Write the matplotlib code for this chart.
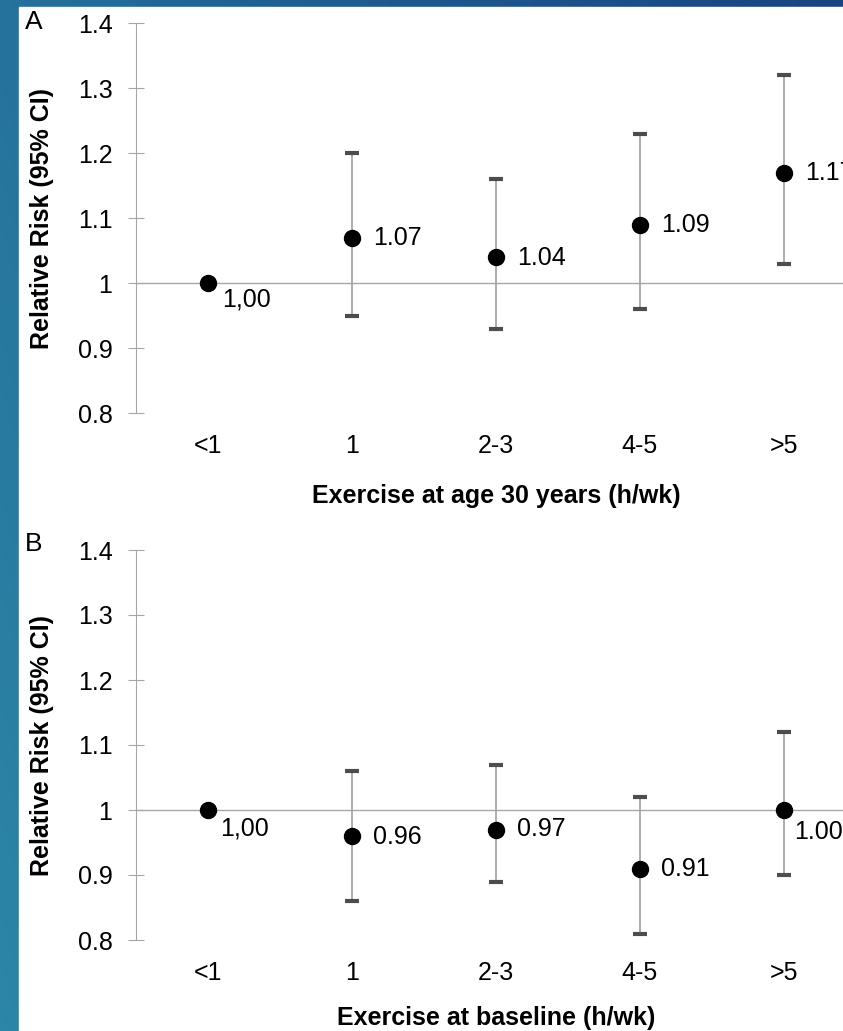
import numpy as np
import matplotlib
matplotlib.use("Agg")
import matplotlib.pyplot as plt
from matplotlib.colors import LinearSegmentedColormap
from matplotlib.patches import Rectangle

plt.rcParams["font.family"] = ["Liberation Sans", "DejaVu Sans"]

CATEGORIES = ["<1", "1", "2-3", "4-5", ">5"]

# panel A: exercise at age 30
rr_a = [1.00, 1.07, 1.04, 1.09, 1.17]
lo_a = [np.nan, 0.95, 0.93, 0.96, 1.03]
hi_a = [np.nan, 1.20, 1.16, 1.23, 1.32]
lbl_a = ["1,00", "1.07", "1.04", "1.09", "1.17"]

# panel B: exercise at baseline
rr_b = [1.00, 0.96, 0.97, 0.91, 1.00]
lo_b = [np.nan, 0.86, 0.89, 0.81, 0.90]
hi_b = [np.nan, 1.06, 1.07, 1.02, 1.12]
lbl_b = ["1,00", "0.96", "0.97", "0.91", "1.00"]

YTICKS = [0.8, 0.9, 1.0, 1.1, 1.2, 1.3, 1.4]
YTICKLABELS = ["0.8", "0.9", "1", "1.1", "1.2", "1.3", "1.4"]

W, H = 843, 1031
FS = 18
fig = plt.figure(figsize=(W / 100, H / 100), dpi=100)

# slide background behind the white chart
bg = fig.add_axes([0, 0, 1, 1], zorder=-10)
bg.set_axis_off()
cmap = LinearSegmentedColormap.from_list("slide", ["#2c86a6", "#1f5f92", "#1a4480"])
gx, gy = np.meshgrid(np.linspace(0, 1, 200), np.linspace(0, 1, 200))
bg.imshow(0.75 * gx + 0.25 * (1 - gy), cmap=cmap, aspect="auto", extent=[0, 1, 0, 1])
bg.add_patch(Rectangle((19 / W, 0), 1, 1 - 7 / H, color="white", transform=bg.transAxes))
bg.set_xlim(0, 1)
bg.set_ylim(0, 1)

GRAY = "#a6a6a6"


def panel(ax, rr, lo, hi, labels, offsets, xlabel, letter):
    x = np.arange(len(CATEGORIES)) + 0.5
    rr = np.array(rr)
    err = np.array([rr - np.array(lo), np.array(hi) - rr])
    ax.axhline(1.0, color=GRAY, lw=1.0, zorder=1)
    _, caps, _ = ax.errorbar(x, rr, yerr=err, fmt="none", ecolor=GRAY,
                             elinewidth=1.3, capsize=4.8, capthick=3.0, zorder=2)
    for c in caps:
        c.set_markeredgecolor("#4d4d4d")
    ax.plot(x, rr, "o", color="black", ms=11.5, zorder=3)
    for xi, yi, s, off in zip(x, rr, labels, offsets):
        ax.annotate(s, (xi, yi), xytext=off, textcoords="offset points",
                    ha="left", va="center", fontsize=FS, annotation_clip=False)

    ax.set_xlim(0, 5)
    ax.set_ylim(0.8, 1.4)
    ax.set_facecolor("none")
    for side in ["top", "right", "bottom"]:
        ax.spines[side].set_visible(False)
    ax.spines["left"].set_color(GRAY)
    ax.set_yticks(YTICKS)
    ax.set_yticklabels(YTICKLABELS)
    ax.set_xticks(x)
    ax.set_xticklabels(CATEGORIES)
    ax.tick_params(axis="y", direction="inout", length=12, width=0.8,
                   color=GRAY, pad=11, labelsize=FS)
    ax.tick_params(axis="x", length=0, pad=15, labelsize=FS)
    ax.text(-0.131, 0.5, "Relative Risk (95% CI)", transform=ax.transAxes,
            rotation=90, ha="center", va="center", fontsize=FS, fontweight="bold")
    ax.text(0.5, xlabel[1], xlabel[0], transform=ax.transAxes,
            ha="center", va="center", fontsize=FS, fontweight="bold")
    ax.text(-0.142, letter[1], letter[0], transform=ax.transAxes,
            ha="center", va="center", fontsize=19)


ax_a = fig.add_axes([136 / W, 1 - 413 / H, 720 / W, 390 / H])
ax_b = fig.add_axes([136 / W, 1 - 940 / H, 720 / W, 390 / H])

offs_a = [(10, -12), (15, 0), (15, -1), (15, 0), (15, 0)]
offs_b = [(9, -13), (15, -1), (15, 0), (15, 0), (7, -16)]

panel(ax_a, rr_a, lo_a, hi_a, lbl_a, offs_a,
      ("Exercise at age 30 years (h/wk)", -0.212), ("A", 1.003))
panel(ax_b, rr_b, lo_b, hi_b, lbl_b, offs_b,
      ("Exercise at baseline (h/wk)", -0.2), ("B", 1.015))

fig.savefig("out.png", dpi=100)
